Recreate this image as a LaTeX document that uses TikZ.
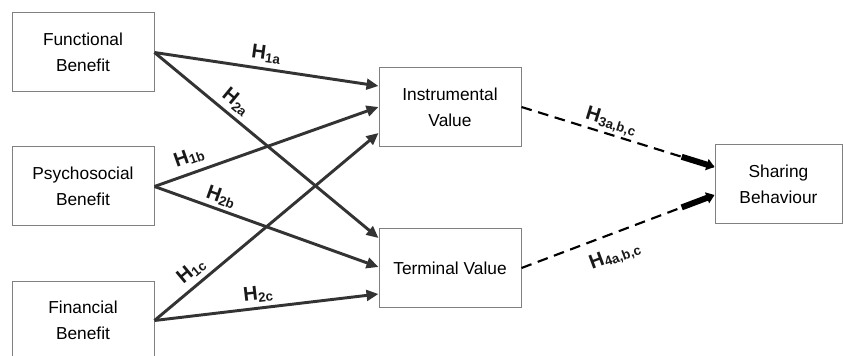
\documentclass[tikz,border=0pt]{standalone}
\usepackage{fontspec}
\setmainfont{Liberation Sans}
\usetikzlibrary{arrows.meta,calc}

\tikzset{every picture/.style={line width=0.75pt}}
\newcommand{\hsub}[1]{H\raisebox{-0.25ex}{\fontsize{10}{10}\selectfont #1}}

\begin{document}
\begin{tikzpicture}[x=0.75pt,y=0.75pt,yscale=-1,xscale=1,
  box/.style={draw={rgb, 255:red, 128; green, 128; blue, 128 }, fill=white, minimum width=106.5pt, minimum height=59.25pt, inner sep=0pt, align=center, font=\fontsize{13}{19.5}\selectfont},
  link/.style={draw={rgb, 255:red, 51; green, 51; blue, 51 }, line width=2.2pt, -{Triangle[length=9pt,width=8pt]}},
  dlink/.style={draw=black, line width=1.6pt, dash pattern=on 8pt off 5pt},
  heavytip/.style={draw=black, line width=4.5pt, -{Triangle[length=6pt,width=8.5pt]}},
  hlab/.style={font=\fontsize{15}{15}\selectfont\bfseries, text={rgb, 255:red, 25; green, 25; blue, 25 }, inner sep=1pt}
]
\useasboundingbox (0,0) rectangle (843,356);

%Shape: Rectangle -- benefits
\node[box] (fun) at (83,52.5) {Functional\\Benefit};
\node[box] (psy) at (83,186.5) {Psychosocial\\Benefit};
\node[box] (fin) at (83,320.5) {Financial\\Benefit};

%Shape: Rectangle -- values
\node[box] (ins) at (450,107) {Instrumental\\Value};
\node[box] (ter) at (450,268) {Terminal Value};

%Shape: Rectangle -- outcome
\node[box, minimum width=95.25pt] (shb) at (778.5,184.5) {Sharing\\Behaviour};

% arrow ends on the left of the value boxes
\coordinate (ins1) at ($(ins.west)+(0,-21)$);
\coordinate (ins2) at ($(ins.west)+(0,0)$);
\coordinate (ins3) at ($(ins.west)+(0,26)$);
\coordinate (ter1) at ($(ter.west)+(0,-30)$);
\coordinate (ter2) at ($(ter.west)+(0,-1)$);
\coordinate (ter3) at ($(ter.west)+(0,26)$);
\coordinate (shb1) at ($(shb.west)+(0,-17.5)$);
\coordinate (shb2) at ($(shb.west)+(0,10.5)$);

%Straight Lines -- H1 and H2
\draw[link] (fun.east) -- (ins1);
\draw[link] (fun.east) -- (ter1);
\draw[link] (psy.east) -- (ins2);
\draw[link] (psy.east) -- (ter2);
\draw[link] (fin.east) -- (ins3);
\draw[link] (fin.east) -- (ter3);

%Dashed Lines -- H3 and H4
\draw[dlink] (ins.east) -- (shb1);
\draw[heavytip] ($(ins.east)!0.83!(shb1)$) -- (shb1);
\draw[dlink] (ter.east) -- (shb2);
\draw[heavytip] ($(ter.east)!0.83!(shb2)$) -- (shb2);

% Text Node -- hypothesis labels
\node[hlab, rotate=-7.9] (h1a) at (266,54) {\hsub{1a}};
\node[hlab, rotate=-39.6] (h2a) at (236,102) {\hsub{2a}};
\node[hlab, rotate=19.5] (h1b) at (189,157) {\hsub{1b}};
\node[hlab, rotate=-19.8] (h2b) at (221,197) {\hsub{2b}};
\node[hlab, rotate=39.9] (h1c) at (191,271) {\hsub{1c}};
\node[hlab, rotate=6.7] (h2c) at (258,294) {\hsub{2c}};
\node[hlab, rotate=-17.2] (h3) at (611,122) {\hsub{3a,b,c}};
\node[hlab, rotate=20.6] (h4) at (615,256) {\hsub{4a,b,c}};

\end{tikzpicture}
\end{document}
